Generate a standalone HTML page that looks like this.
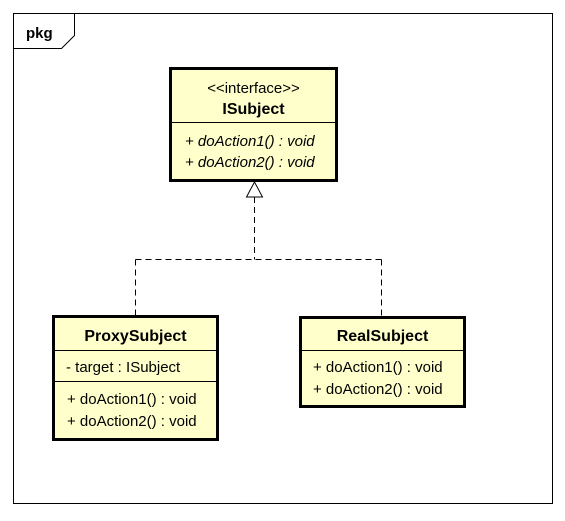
<!DOCTYPE html>
<html><head><style>
body{margin:0;background:#fff;}
svg text{font-family:"Liberation Sans",sans-serif;font-size:15px;fill:#000;}
svg text.b{font-weight:bold;font-size:16px;}
</style></head><body>
<svg width="565" height="516" xmlns="http://www.w3.org/2000/svg">
<rect x="13.5" y="13.5" width="539" height="490" fill="#fff" stroke="#000" stroke-width="1"/>
<path d="M13.5 48.5 H61.5 L74.5 35.5 V13.5" fill="none" stroke="#000"/>
<text x="26" y="38" font-weight="bold" style="font-size:15px">pkg</text>

<g stroke="#000" stroke-width="1" fill="none" stroke-dasharray="6,4">
<path d="M254.5 197 V259.5"/>
<path d="M135.5 259.5 H381.5"/>
<path d="M135.5 259.5 V316"/>
<path d="M381.5 259.5 V317"/>
</g>
<polygon points="254.5,182 246.5,197 262.5,197" fill="#fff" stroke="#000"/>

<rect x="170.5" y="68.5" width="166" height="112" fill="#ffffcc" stroke="#000" stroke-width="3"/>
<line x1="170" y1="122.5" x2="337" y2="122.5" stroke="#000"/>
<text x="253.5" y="93" text-anchor="middle">&lt;&lt;interface&gt;&gt;</text>
<text class="b" x="253.5" y="114" text-anchor="middle">ISubject</text>
<text x="185" y="146" font-style="italic">+ doAction1() : void</text>
<text x="185" y="167" font-style="italic">+ doAction2() : void</text>

<rect x="53.5" y="316.5" width="164" height="123" fill="#ffffcc" stroke="#000" stroke-width="3"/>
<line x1="53" y1="350.5" x2="218" y2="350.5" stroke="#000"/>
<line x1="53" y1="381.5" x2="218" y2="381.5" stroke="#000"/>
<text class="b" x="135.5" y="341" text-anchor="middle">ProxySubject</text>
<text x="66" y="372">- target : ISubject</text>
<text x="67" y="404">+ doAction1() : void</text>
<text x="67" y="426">+ doAction2() : void</text>

<rect x="300.5" y="317.5" width="164" height="89" fill="#ffffcc" stroke="#000" stroke-width="3"/>
<line x1="300" y1="350.5" x2="465" y2="350.5" stroke="#000"/>
<text class="b" x="382.5" y="341" text-anchor="middle">RealSubject</text>
<text x="313" y="372">+ doAction1() : void</text>
<text x="313" y="394">+ doAction2() : void</text>
</svg>
</body></html>
